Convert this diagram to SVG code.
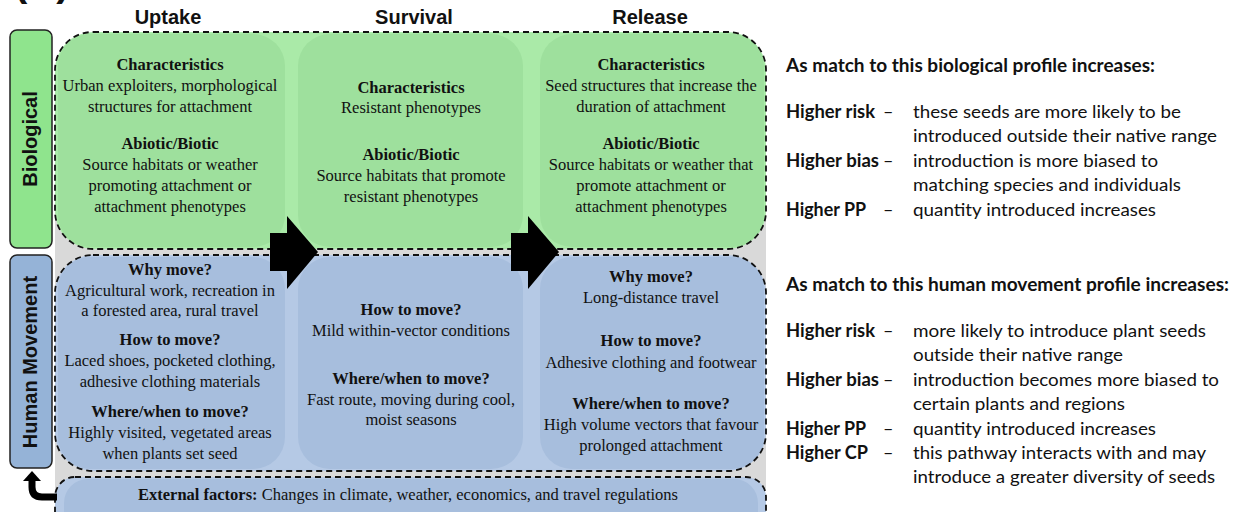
<svg xmlns="http://www.w3.org/2000/svg" width="1240" height="512" viewBox="0 0 1240 512">
  <defs>
    <style>
      .hdr { font-family: "Liberation Sans", Arial, sans-serif; font-weight: bold; font-size: 20px; fill: #111; text-anchor: middle; }
      .side { font-family: "Liberation Sans", Arial, sans-serif; font-weight: bold; font-size: 20px; fill: #111; text-anchor: middle; }
      .t { font-family: "Liberation Serif", "Times New Roman", serif; font-size: 16.5px; fill: #111; text-anchor: middle; }
      .t .b, .b { font-weight: bold; }
      .lg { font-family: Lato, "Liberation Sans", sans-serif; font-size: 18px; fill: #111; }
      .lgb { font-family: Lato, "Liberation Sans", sans-serif; font-size: 18px; font-weight: bold; fill: #111; }
      .dash { fill: none; stroke: #111; stroke-width: 1.8; stroke-dasharray: 6 4; }
      .gcol { fill: #9ee09d; }
      .bcol { fill: #a7bedd; }
    </style>
  </defs>

  <rect width="1240" height="512" fill="#ffffff"/>

  <!-- panel letter, clipped at the top edge -->
  <text x="14" y="-4" font-family="Liberation Sans, Arial, sans-serif" font-weight="bold" font-size="40" fill="#111">(B)</text>

  <!-- stage headers -->
  <g id="headers">
    <text class="hdr" x="168" y="24">Uptake</text>
    <text class="hdr" x="414" y="24">Survival</text>
    <text class="hdr" x="650" y="24">Release</text>
  </g>

  <!-- grey backdrop visible between the two profile panels -->
  <rect x="55" y="200" width="711" height="290" fill="#d9d9d9"/>

  <!-- biological profile panel -->
  <g id="panel-biological">
    <rect x="55" y="32" width="711" height="217" rx="38" fill="#aaeaa8"/>
    <rect class="gcol" x="58" y="34" width="227" height="213" rx="32"/>
    <rect class="gcol" x="298" y="34" width="225" height="213" rx="32"/>
    <rect class="gcol" x="540" y="34" width="224" height="213" rx="32"/>
    <rect class="dash" x="55" y="32" width="711" height="217" rx="38"/>
  </g>

  <!-- human movement profile panel -->
  <g id="panel-human">
    <rect x="55" y="255" width="711" height="216" rx="38" fill="#b5c9e5"/>
    <rect class="bcol" x="58" y="257" width="227" height="212" rx="32"/>
    <rect class="bcol" x="298" y="257" width="225" height="212" rx="32"/>
    <rect class="bcol" x="540" y="257" width="224" height="212" rx="32"/>
    <rect class="dash" x="55" y="255" width="711" height="216" rx="38"/>
  </g>

  <!-- external factors bar -->
  <g id="external-factors">
    <rect x="55" y="477" width="711" height="60" rx="20" fill="#b5c9e5"/>
    <rect class="bcol" x="64" y="479" width="694" height="56" rx="24"/>
    <rect class="dash" x="55" y="477" width="711" height="60" rx="20"/>
    <text class="t" x="408" y="500"><tspan class="b">External factors:</tspan> Changes in climate, weather, economics, and travel regulations</text>
  </g>

  <!-- row labels -->
  <g id="label-biological">
    <rect x="10" y="30" width="42" height="218" rx="7" fill="#8fe48d" stroke="#222" stroke-width="1.5"/>
    <text class="side" transform="translate(37,139) rotate(-90)">Biological</text>
  </g>
  <g id="label-human">
    <rect x="10" y="255" width="42" height="213" rx="7" fill="#95b3d7" stroke="#222" stroke-width="1.5"/>
    <text class="side" transform="translate(37,362) rotate(-90)">Human Movement</text>
  </g>

  <!-- biological cells -->
  <g id="bio-uptake">
    <text class="t b" x="170" y="70">Characteristics</text>
    <text class="t" x="170" y="91">Urban exploiters, morphological</text>
    <text class="t" x="170" y="112">structures for attachment</text>
    <text class="t b" x="170" y="149">Abiotic/Biotic</text>
    <text class="t" x="170" y="170">Source habitats or weather</text>
    <text class="t" x="170" y="191">promoting attachment or</text>
    <text class="t" x="170" y="212">attachment phenotypes</text>
  </g>
  <g id="bio-survival">
    <text class="t b" x="411" y="93">Characteristics</text>
    <text class="t" x="411" y="113">Resistant phenotypes</text>
    <text class="t b" x="411" y="160">Abiotic/Biotic</text>
    <text class="t" x="411" y="181">Source habitats that promote</text>
    <text class="t" x="411" y="202">resistant phenotypes</text>
  </g>
  <g id="bio-release">
    <text class="t b" x="651" y="70">Characteristics</text>
    <text class="t" x="651" y="91">Seed structures that increase the</text>
    <text class="t" x="651" y="112">duration of attachment</text>
    <text class="t b" x="651" y="149">Abiotic/Biotic</text>
    <text class="t" x="651" y="170">Source habitats or weather that</text>
    <text class="t" x="651" y="191">promote attachment or</text>
    <text class="t" x="651" y="212">attachment phenotypes</text>
  </g>

  <!-- human movement cells -->
  <g id="human-uptake">
    <text class="t b" x="170" y="275">Why move?</text>
    <text class="t" x="170" y="296">Agricultural work, recreation in</text>
    <text class="t" x="170" y="316">a forested area, rural travel</text>
    <text class="t b" x="170" y="345">How to move?</text>
    <text class="t" x="170" y="366">Laced shoes, pocketed clothing,</text>
    <text class="t" x="170" y="387">adhesive clothing materials</text>
    <text class="t b" x="170" y="417">Where/when to move?</text>
    <text class="t" x="170" y="438">Highly visited, vegetated areas</text>
    <text class="t" x="170" y="459">when plants set seed</text>
  </g>
  <g id="human-survival">
    <text class="t b" x="411" y="315">How to move?</text>
    <text class="t" x="411" y="336">Mild within-vector conditions</text>
    <text class="t b" x="411" y="384">Where/when to move?</text>
    <text class="t" x="411" y="405">Fast route, moving during cool,</text>
    <text class="t" x="411" y="425">moist seasons</text>
  </g>
  <g id="human-release">
    <text class="t b" x="651" y="282">Why move?</text>
    <text class="t" x="651" y="303">Long-distance travel</text>
    <text class="t b" x="651" y="346">How to move?</text>
    <text class="t" x="651" y="368">Adhesive clothing and footwear</text>
    <text class="t b" x="651" y="409">Where/when to move?</text>
    <text class="t" x="651" y="430">High volume vectors that favour</text>
    <text class="t" x="651" y="451">prolonged attachment</text>
  </g>

  <!-- connectors: stage arrows and feedback from external factors -->
  <g id="connectors" fill="#000">
    <polygon points="270,233 287,233 287,216 318,252 287,289 287,271 270,271"/>
    <polygon points="511,233 528,233 528,216 559,252 528,289 528,271 511,271"/>
    <path d="M 57 497 H 42 Q 32 497 32 487 V 479" fill="none" stroke="#000" stroke-width="7"/>
    <polygon points="23,481 41,481 32,471"/>
  </g>

  <!-- outcomes of the biological profile -->
  <g id="legend-biological">
    <text class="lgb" x="786" y="72" textLength="369" lengthAdjust="spacingAndGlyphs">As match to this biological profile increases:</text>
    <text class="lgb" x="786" y="118" textLength="89" lengthAdjust="spacingAndGlyphs">Higher risk</text>
    <text class="lg" x="883" y="118">–</text>
    <text class="lg" x="913" y="118" textLength="268" lengthAdjust="spacingAndGlyphs">these seeds are more likely to be</text>
    <text class="lg" x="913" y="142" textLength="304" lengthAdjust="spacingAndGlyphs">introduced outside their native range</text>
    <text class="lgb" x="786" y="167" textLength="93" lengthAdjust="spacingAndGlyphs">Higher bias</text>
    <text class="lg" x="883" y="167">–</text>
    <text class="lg" x="913" y="167" textLength="245" lengthAdjust="spacingAndGlyphs">introduction is more biased to</text>
    <text class="lg" x="913" y="191" textLength="268" lengthAdjust="spacingAndGlyphs">matching species and individuals</text>
    <text class="lgb" x="786" y="216" textLength="80" lengthAdjust="spacingAndGlyphs">Higher PP</text>
    <text class="lg" x="883" y="216">–</text>
    <text class="lg" x="913" y="216" textLength="243" lengthAdjust="spacingAndGlyphs">quantity introduced increases</text>
  </g>

  <!-- outcomes of the human movement profile -->
  <g id="legend-human">
    <text class="lgb" x="786" y="291" textLength="443" lengthAdjust="spacingAndGlyphs">As match to this human movement profile increases:</text>
    <text class="lgb" x="786" y="337" textLength="89" lengthAdjust="spacingAndGlyphs">Higher risk</text>
    <text class="lg" x="883" y="337">–</text>
    <text class="lg" x="913" y="337" textLength="293" lengthAdjust="spacingAndGlyphs">more likely to introduce plant seeds</text>
    <text class="lg" x="913" y="361" textLength="210" lengthAdjust="spacingAndGlyphs">outside their native range</text>
    <text class="lgb" x="786" y="386" textLength="93" lengthAdjust="spacingAndGlyphs">Higher bias</text>
    <text class="lg" x="883" y="386">–</text>
    <text class="lg" x="913" y="386" textLength="306" lengthAdjust="spacingAndGlyphs">introduction becomes more biased to</text>
    <text class="lg" x="913" y="410" textLength="212" lengthAdjust="spacingAndGlyphs">certain plants and regions</text>
    <text class="lgb" x="786" y="435" textLength="80" lengthAdjust="spacingAndGlyphs">Higher PP</text>
    <text class="lg" x="883" y="435">–</text>
    <text class="lg" x="913" y="435" textLength="243" lengthAdjust="spacingAndGlyphs">quantity introduced increases</text>
    <text class="lgb" x="786" y="459" textLength="82" lengthAdjust="spacingAndGlyphs">Higher CP</text>
    <text class="lg" x="883" y="459">–</text>
    <text class="lg" x="913" y="459" textLength="293" lengthAdjust="spacingAndGlyphs">this pathway interacts with and may</text>
    <text class="lg" x="913" y="483" textLength="302" lengthAdjust="spacingAndGlyphs">introduce a greater diversity of seeds</text>
  </g>
</svg>
